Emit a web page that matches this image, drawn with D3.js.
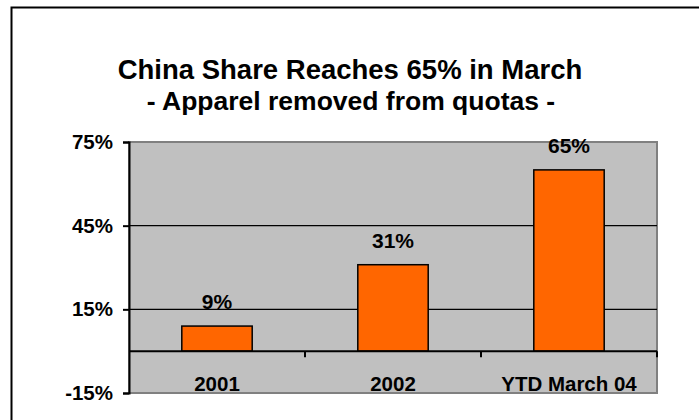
<!DOCTYPE html>
<html>
<head>
<meta charset="utf-8">
<script src="https://cdn.jsdelivr.net/npm/d3@7"></script>
<style>
    body { margin: 0; background: #fff; }
    text { font-family: "Liberation Sans", Arial, sans-serif; font-weight: bold; fill: #000; }
</style>
</head>
<body>
<div id="chart"></div>
<script>
// chart data
var categories = ['2001', '2002', 'YTD March 04']
var shares = [9, 31, 65]
var valueLabels = ['9%', '31%', '65%']
var yTicks = [75, 45, 15, -15]
var titleText = 'China Share Reaches 65% in March'
var subtitleText = '- Apparel removed from quotas -'

var W = 699, H = 420
var plot = {left: 129, right: 657, top: 142, bottom: 393}

var svg = d3.select('#chart')
    .append('svg')
    .attr('width', W)
    .attr('height', H)

// outer frame (only top and left edges fall inside the picture)
svg.append('rect')
    .attr('x', 11.5)
    .attr('y', 7.5)
    .attr('width', W)
    .attr('height', H)
    .attr('fill', '#fff')
    .attr('stroke', '#000')
    .attr('stroke-width', 2)

// scales
var x = d3.scaleBand()
    .domain(categories)
    .range([plot.left, plot.right])
    .paddingInner(0.6)
    .paddingOuter(0.3)

var y = d3.scaleLinear()
    .domain([-15, 75])
    .range([plot.bottom, plot.top])

// plot area background
svg.append('rect')
    .attr('x', plot.left)
    .attr('y', plot.top)
    .attr('width', plot.right - plot.left)
    .attr('height', plot.bottom - plot.top)
    .attr('fill', '#c0c0c0')
    .attr('stroke', '#808080')
    .attr('stroke-width', 2)

// gridlines
svg.append('g')
    .selectAll('line')
    .data(yTicks.filter(function(d) { return d != 75 && d != -15 }))
    .enter()
    .append('line')
    .attr('x1', plot.left)
    .attr('x2', plot.right)
    .attr('y1', function(d) { return y(d) })
    .attr('y2', function(d) { return y(d) })
    .attr('stroke', '#000')
    .attr('stroke-width', 1.3)

// bars
svg.append('g')
    .selectAll('rect')
    .data(shares)
    .enter()
    .append('rect')
    .attr('x', function(d, i) { return x(categories[i]) })
    .attr('y', function(d) { return y(d) })
    .attr('width', x.bandwidth())
    .attr('height', function(d) { return y(0) - y(d) })
    .attr('fill', '#ff6600')
    .attr('stroke', '#000')
    .attr('stroke-width', 1.5)

// value labels
svg.append('g')
    .selectAll('text')
    .data(shares)
    .enter()
    .append('text')
    .attr('x', function(d, i) { return x(categories[i]) + x.bandwidth() / 2 })
    .attr('y', function(d) { return y(d) - 17 })
    .style('text-anchor', 'middle')
    .style('font-size', '21px')
    .text(function(d, i) { return valueLabels[i] })

// category axis on the zero line
var step = x.step()
svg.append('line')
    .attr('x1', plot.left)
    .attr('x2', plot.right)
    .attr('y1', y(0))
    .attr('y2', y(0))
    .attr('stroke', '#000')
    .attr('stroke-width', 2)

svg.append('g')
    .selectAll('line')
    .data(categories)
    .enter()
    .append('line')
    .attr('x1', function(d) { return x(d) + x.bandwidth() / 2 + step / 2 })
    .attr('x2', function(d) { return x(d) + x.bandwidth() / 2 + step / 2 })
    .attr('y1', y(0))
    .attr('y2', y(0) + 6)
    .attr('stroke', '#000')
    .attr('stroke-width', 2)

svg.append('g')
    .selectAll('text')
    .data(categories)
    .enter()
    .append('text')
    .attr('x', function(d) { return x(d) + x.bandwidth() / 2 })
    .attr('y', 391)
    .style('text-anchor', 'middle')
    .style('font-size', '20.5px')
    .text(function(d) { return d })

// y axis
var yAxis = svg.append('g')
    .attr('transform', 'translate(' + plot.left + ',0)')
    .call(d3.axisLeft(y)
        .tickValues(yTicks)
        .tickSize(6)
        .tickPadding(10)
        .tickFormat(function(d) { return d + '%' }))

yAxis.select('.domain').attr('stroke', '#000').attr('stroke-width', 2)
yAxis.selectAll('.tick line').attr('stroke', '#000').attr('stroke-width', 2)
yAxis.selectAll('.tick text')
    .style('font-family', '"Liberation Sans", Arial, sans-serif')
    .style('font-weight', 'bold')
    .style('font-size', '20.5px')
    .attr('fill', '#000')

// titles
svg.append('text')
    .attr('x', 350)
    .attr('y', 79)
    .style('text-anchor', 'middle')
    .style('font-size', '27.5px')
    .text(titleText)

svg.append('text')
    .attr('x', 351)
    .attr('y', 110)
    .style('text-anchor', 'middle')
    .style('font-size', '26.5px')
    .text(subtitleText)
</script>
</body>
</html>
